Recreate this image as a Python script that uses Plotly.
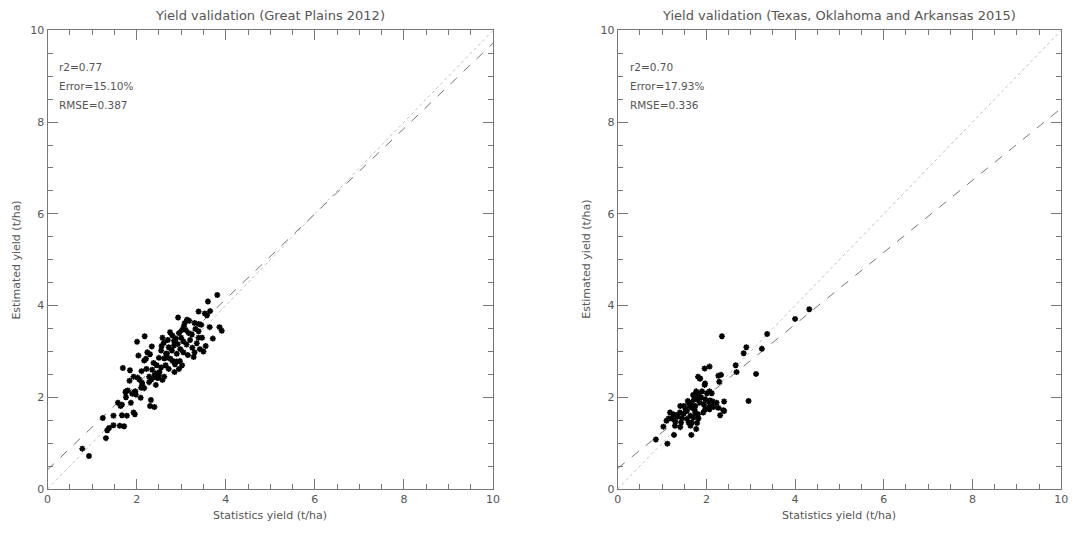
import plotly.graph_objects as go

# ---------------- data ----------------
left_x = [0.78, 0.93, 1.31, 1.34, 1.38, 1.48, 1.62, 1.72, 1.24, 1.48, 1.67, 1.78, 1.93, 1.96,
          1.58, 1.64, 1.67, 1.87, 1.76, 1.76, 2.09, 2.32, 2.30, 2.40, 1.90, 1.97, 1.98, 2.10,
          1.69, 1.85, 2.01, 2.18, 2.34, 2.04, 2.24, 2.30, 2.17, 2.21, 2.11, 1.93, 2.02, 2.06,
          1.84, 1.80, 1.75, 1.95, 2.13, 2.17, 2.28, 2.51, 2.40, 2.44, 2.33, 2.28, 2.43, 2.50,
          2.43, 2.58, 2.50, 2.62, 2.68, 2.76, 2.81, 2.86, 2.95, 2.97, 2.55, 2.66, 2.72, 2.79,
          2.84, 2.92, 2.58, 2.61, 2.84, 2.80, 2.88, 2.95, 3.00, 3.05, 2.75, 2.70, 3.81, 3.60,
          3.39, 3.53, 3.58, 3.65, 2.93, 3.13, 3.08, 3.18, 3.30, 3.39, 3.45, 3.64, 3.86, 3.91,
          3.06, 3.02, 3.10, 3.32, 3.39, 3.71, 3.47, 3.39, 3.24, 3.17, 3.12, 3.20, 3.25, 3.35,
          3.30, 3.42, 3.15, 3.05, 3.50, 3.55, 2.98, 2.90, 2.35, 2.45, 2.55, 2.38, 2.65, 2.72,
          2.85, 2.48, 2.62, 2.68, 2.90, 3.02, 3.28, 2.56, 2.22, 2.12]
left_y = [0.88, 0.72, 1.11, 1.28, 1.33, 1.39, 1.38, 1.37, 1.55, 1.60, 1.61, 1.60, 1.67, 1.63,
          1.88, 1.81, 1.84, 1.88, 2.00, 2.13, 1.99, 1.94, 1.81, 1.79, 2.08, 2.13, 2.06, 2.21,
          2.64, 2.59, 3.21, 3.33, 3.11, 2.91, 2.98, 2.94, 2.80, 2.84, 2.57, 2.45, 2.43, 2.39,
          2.36, 2.15, 2.11, 2.11, 2.27, 2.20, 2.45, 2.55, 2.48, 2.43, 2.39, 2.33, 2.52, 2.48,
          2.27, 2.38, 2.86, 2.85, 2.87, 2.84, 2.79, 2.72, 2.62, 2.79, 3.02, 2.95, 3.09, 3.02,
          3.13, 3.16, 3.30, 3.19, 3.23, 3.35, 3.28, 3.40, 3.30, 3.22, 3.42, 3.25, 4.23, 4.09,
          3.87, 3.83, 3.79, 3.88, 3.74, 3.69, 3.62, 3.67, 3.62, 3.60, 3.58, 3.53, 3.53, 3.45,
          3.55, 3.47, 3.47, 3.49, 3.44, 3.28, 3.30, 3.30, 3.37, 3.40, 3.15, 3.25, 3.08, 3.18,
          2.98, 3.05, 2.92, 2.98, 3.00, 3.12, 3.05, 2.95, 2.60, 2.70, 2.65, 2.75, 2.70, 2.62,
          2.55, 2.42, 2.45, 2.95, 2.78, 2.70, 2.88, 3.12, 2.62, 2.32]

right_x = [0.86, 1.12, 1.03, 1.27, 1.66, 1.10, 1.15, 1.23, 1.30, 1.18, 1.25, 1.32, 1.29, 1.41,
           1.43, 1.40, 1.49, 1.53, 1.41, 1.49, 1.60, 1.62, 1.56, 1.67, 1.73, 1.64, 1.71, 1.75,
           1.81, 1.82, 1.56, 1.60, 1.67, 1.64, 1.77, 1.79, 1.67, 1.75, 1.77, 1.79, 1.82, 1.85,
           1.75, 1.85, 1.97, 1.82, 1.90, 2.01, 2.07, 1.97, 2.05, 2.14, 2.23, 2.05, 1.97, 2.07,
           1.93, 2.40, 2.40, 2.31, 2.27, 2.16, 4.32, 4.00, 3.37, 2.35, 2.90, 3.25, 2.84, 2.66,
           2.68, 3.12, 1.96, 2.07, 2.27, 2.33, 2.29, 1.81, 1.86, 1.96, 2.12, 2.08, 2.12, 2.95,
           2.38, 1.35, 1.45, 1.72, 1.88, 1.58, 1.94, 1.70]
right_y = [1.08, 0.99, 1.36, 1.18, 1.18, 1.49, 1.54, 1.53, 1.47, 1.67, 1.63, 1.61, 1.38, 1.35,
           1.45, 1.67, 1.65, 1.74, 1.81, 1.81, 1.88, 1.81, 1.70, 1.77, 1.74, 1.60, 1.56, 1.67,
           1.63, 1.54, 1.53, 1.45, 1.45, 1.38, 1.31, 1.44, 1.88, 2.02, 2.13, 1.95, 2.02, 1.88,
           1.81, 2.41, 2.30, 2.09, 2.13, 2.09, 2.13, 1.96, 1.91, 1.91, 1.88, 1.79, 1.74, 1.74,
           1.67, 1.91, 1.70, 1.61, 1.77, 1.79, 3.92, 3.71, 3.38, 3.33, 3.09, 3.06, 2.96, 2.70,
           2.55, 2.51, 2.63, 2.67, 2.47, 2.49, 2.34, 2.45, 2.41, 2.27, 2.09, 1.93, 1.81, 1.92,
           1.72, 1.58, 1.55, 1.95, 2.00, 1.92, 1.85, 2.05]

# regression fits (intercept, slope)
left_fit = (0.42, 0.93)
right_fit = (0.45, 0.785)
axis_range = [0, 10]
tick_vals = [0, 2, 4, 6, 8, 10]
tick_text = ["0", "2", "4", "6", "8", "10"]

titles = ["Yield validation (Great Plains 2012)",
          "Yield validation (Texas, Oklahoma and Arkansas 2015)"]
stats = [["r2=0.77", "Error=15.10%", "RMSE=0.387"],
         ["r2=0.70", "Error=17.93%", "RMSE=0.336"]]
xlabel = "Statistics yield (t/ha)"
ylabel = "Estimated yield (t/ha)"

# ---------------- figure ----------------
W, H = 1085, 538
FONT = "DejaVu Sans"
TXT = "#555555"
fig = go.Figure()

panels = [(left_x, left_y, left_fit, "x", "y"),
          (right_x, right_y, right_fit, "x2", "y2")]
for xs, ys, fit, xa, ya in panels:
    # 1:1 line
    fig.add_trace(go.Scatter(x=axis_range, y=axis_range, mode="lines",
                             line=dict(color="#c0c0c0", width=1, dash="dot"),
                             xaxis=xa, yaxis=ya, hoverinfo="skip"))
    # regression line
    fx = axis_range
    fy = [fit[0] + fit[1] * v for v in fx]
    fig.add_trace(go.Scatter(x=fx, y=fy, mode="lines",
                             line=dict(color="#777777", width=1, dash="dash"),
                             xaxis=xa, yaxis=ya, hoverinfo="skip"))
    fig.add_trace(go.Scatter(x=xs, y=ys, mode="markers",
                             marker=dict(symbol="asterisk-open", size=5, color="black",
                                         line=dict(color="black", width=1.6)),
                             xaxis=xa, yaxis=ya))

xdoms = [[44 / W, 494 / W], [620 / W, 1068 / W]]
ydom = [1 - 495 / H, 1 - 25 / H]

def axis_cfg(dom, anchor):
    return dict(domain=dom, anchor=anchor, range=axis_range, tickvals=tick_vals,
                ticktext=tick_text, ticks="inside", ticklen=10, tickwidth=1,
                tickcolor="#777777", showline=True, linecolor="#777777", linewidth=1,
                mirror="ticks", showgrid=False, zeroline=False,
                tickfont=dict(family=FONT, size=11, color=TXT),
                minor=dict(dtick=0.5, ticks="inside", ticklen=5, tickcolor="#777777",
                           showgrid=False))

fig.update_layout(
    width=W, height=H, margin=dict(l=0, r=0, t=0, b=0),
    paper_bgcolor="white", plot_bgcolor="white", showlegend=False,
    xaxis=axis_cfg(xdoms[0], "y"), yaxis=axis_cfg(ydom, "x"),
    xaxis2=axis_cfg(xdoms[1], "y2"), yaxis2=axis_cfg(ydom, "x2"),
)

ann = []
for i, dom in enumerate(xdoms):
    cx = (dom[0] + dom[1]) / 2
    ann.append(dict(text=titles[i], x=cx, y=1 - 10 / H, xref="paper", yref="paper",
                    showarrow=False, font=dict(family=FONT, size=13, color=TXT),
                    xanchor="center", yanchor="middle"))
    ann.append(dict(text=xlabel, x=cx, y=1 - 522 / H, xref="paper", yref="paper",
                    showarrow=False, font=dict(family=FONT, size=11, color=TXT),
                    xanchor="center", yanchor="middle"))
    yx = 13 / W if i == 0 else 589 / W
    ann.append(dict(text=ylabel, x=yx, y=(ydom[0] + ydom[1]) / 2, xref="paper",
                    yref="paper", showarrow=False, textangle=-90,
                    font=dict(family=FONT, size=11, color=TXT),
                    xanchor="center", yanchor="middle"))
    sx = (dom[0] * W + 10) / W
    for j, s in enumerate(stats[i]):
        ann.append(dict(text=s, x=sx, y=1 - (63 + 19 * j) / H, xref="paper",
                        yref="paper", showarrow=False, xanchor="left", yanchor="middle",
                        font=dict(family=FONT, size=10.5, color=TXT)))
fig.update_layout(annotations=ann)

fig.write_html("out.html")
